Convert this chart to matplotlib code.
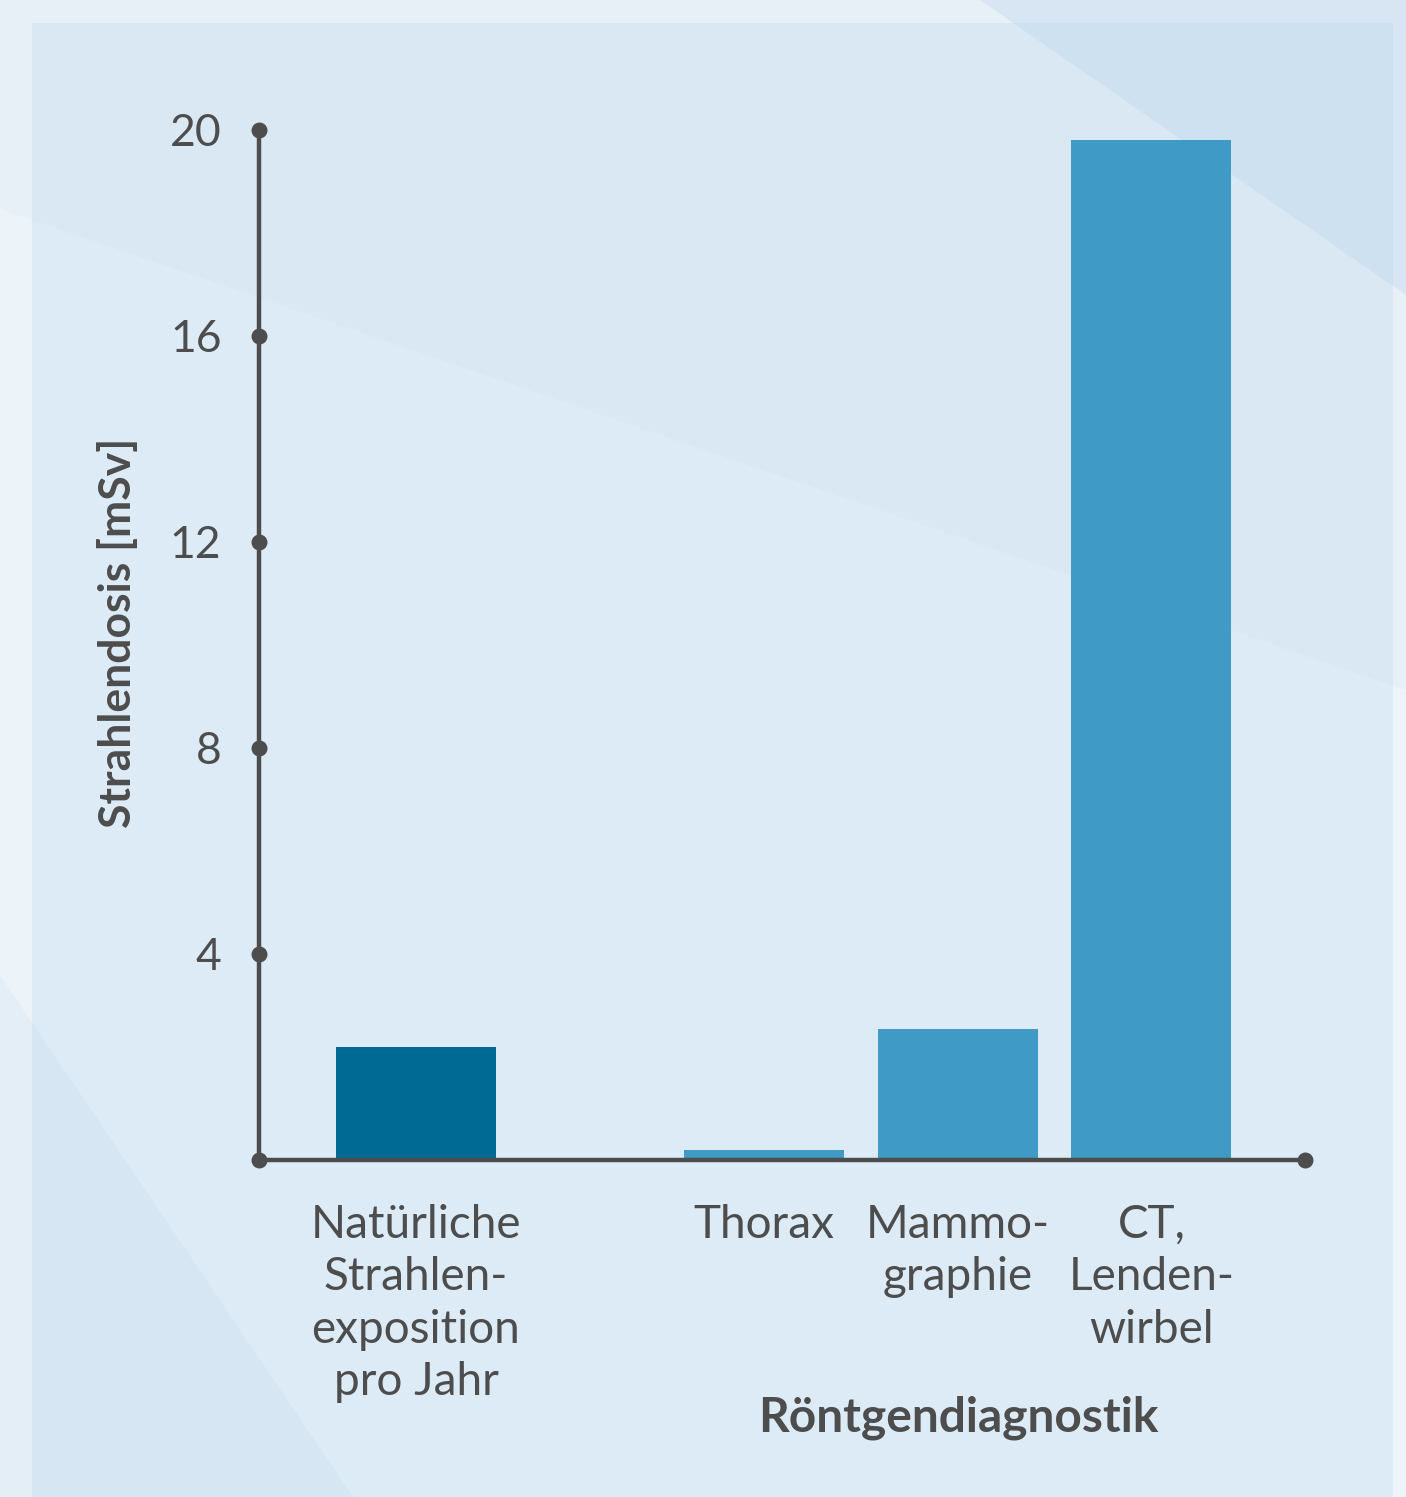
import matplotlib
matplotlib.use("Agg")
import matplotlib.pyplot as plt
from matplotlib.patches import Polygon, Rectangle

# ---- data ----
categories = ["Natürliche\nStrahlen-\nexposition\npro Jahr", "Thorax", "Mammo-\ngraphie", "CT,\nLenden-\nwirbel"]
positions = [0.0, 1.8, 2.8, 3.8]
values = [2.2, 0.2, 2.55, 19.8]
bar_colors = ["#006a94", "#3f9bc6", "#3f9bc6", "#3f9bc6"]
yticks = [0, 4, 8, 12, 16, 20]
ytick_labels = ["", "4", "8", "12", "16", "20"]
ylabel = "Strahlendosis [mSv]"
group_label = "Röntgendiagnostik"

W, H = 1406, 1497
DPI = 100
fig = plt.figure(figsize=(W / DPI, H / DPI), dpi=DPI)
fig.patch.set_facecolor("#edf4f9")

def px(x, y):
    return (x / W, 1 - y / H)

def poly(pts, color, alpha=1.0, z=0):
    p = Polygon([px(*q) for q in pts], closed=True, transform=fig.transFigure,
                facecolor=color, edgecolor="none", alpha=alpha, zorder=z)
    fig.patches.append(p)

# panel
fig.patches.append(Rectangle(px(32, 1497), (1393 - 32) / W, (1497 - 23) / H,
                             transform=fig.transFigure, facecolor="#dcebf5",
                             edgecolor="none", zorder=0))
# decorative streaks
poly([(0, 209), (1406, 690), (1406, 0), (0, 0)], "#c9ddee", alpha=0.15, z=1)
poly([(980, 0), (1406, 0), (1406, 295)], "#b7d2ea", alpha=0.3, z=1)
poly([(0, 975), (353, 1497), (0, 1497)], "#b7d2ea", alpha=0.15, z=1)

ax = fig.add_axes([259 / W, 1 - 1160 / H, (1305 - 259) / W, (1160 - 130) / H])
ax.set_facecolor("none")
ax.set_zorder(5)

axis_col = "#4d4d4d"
text_col = "#4d4d4d"
xmin, xmax = -0.811, 4.594
ax.set_xlim(xmin, xmax)
ax.set_ylim(0, 20)

ax.bar(positions, values, width=0.827, color=bar_colors, zorder=2)

for s in ["top", "right"]:
    ax.spines[s].set_visible(False)
for s in ["left", "bottom"]:
    ax.spines[s].set_color(axis_col)
    ax.spines[s].set_linewidth(3.2)
    ax.spines[s].set_zorder(3)

ax.scatter([xmin] * len(yticks), yticks, s=110, color=axis_col, clip_on=False, zorder=4)
ax.scatter([xmax], [0], s=110, color=axis_col, clip_on=False, zorder=4)

font = "Lato"
ax.set_yticks(yticks)
ax.set_yticklabels(ytick_labels, fontsize=32, color=text_col, family=font)
ax.tick_params(axis="y", length=0, pad=27)
ax.set_xticks([])

for pos, lab in zip(positions, categories):
    ax.text(pos, -0.85, lab, ha="center", va="top", fontsize=33, color=text_col,
            family=font, linespacing=1.31)

ax.text(positions[2], -5.0, group_label, ha="center", va="center", fontsize=34.5,
        fontweight="bold", color=text_col, family=font)

fig.text(118 / W, 1 - 633 / H, ylabel, rotation=90, ha="center", va="center",
         fontsize=32, fontweight="bold", color=text_col, family=font)

fig.savefig("out.png", dpi=DPI, facecolor=fig.get_facecolor())
